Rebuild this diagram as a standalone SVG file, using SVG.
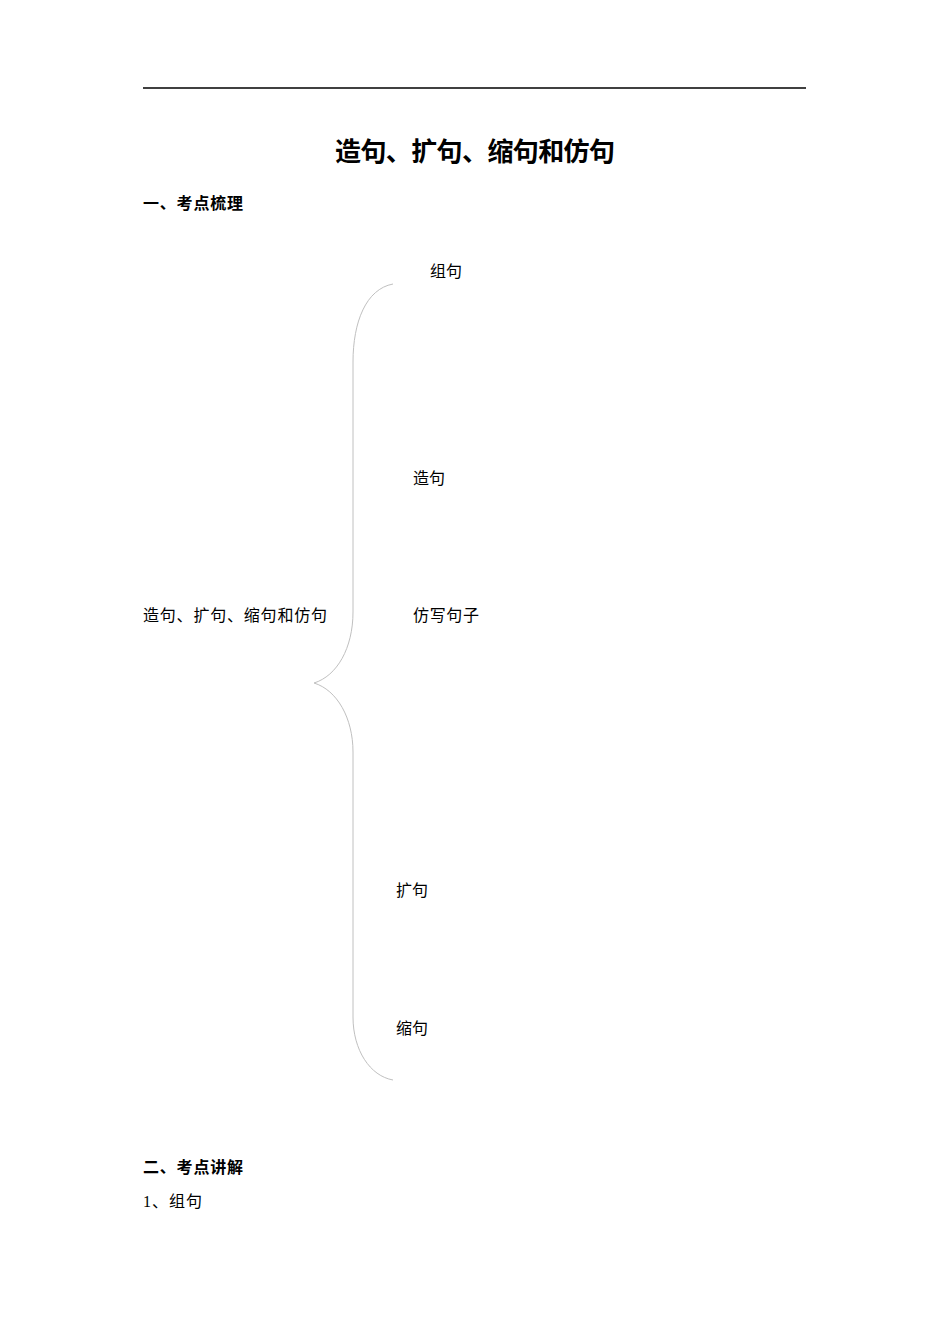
<svg xmlns="http://www.w3.org/2000/svg" width="950" height="1344" viewBox="0 0 950 1344">
<style>
.t{font-family:"Liberation Serif","Noto Sans CJK SC",serif;font-size:16px;fill:#000}
.b{font-family:"Liberation Sans","Noto Sans CJK SC",sans-serif;font-size:16px;font-weight:bold;fill:#000}
.h{font-family:"Liberation Sans","Noto Sans CJK SC",sans-serif;font-size:26px;font-weight:bold;fill:#000}
.brace{fill:none;stroke:#c0c0c0;stroke-width:1}
</style>
<rect width="950" height="1344" fill="#fff"/>
<line x1="143" y1="88" x2="806" y2="88" stroke="#000" stroke-width="1.5"/>
<text class="h" x="475" y="161" text-anchor="middle" textLength="280">造句、扩句、缩句和仿句</text>
<text class="b" x="143" y="209" textLength="100">一、考点梳理</text>
<g id="connectors">
<path class="brace" d="M393,284 C366,289 353,322 353,362 L353,612 C353,648 337,676 314,683 C337,690 353,718 353,752 L353,1017 C353,1050 370,1076 393,1080"/>
</g>
<g id="root"><text class="t" x="143" y="621" textLength="184">造句、扩句、缩句和仿句</text></g>
<g id="n-zuju"><text class="t" x="430" y="277">组句</text></g>
<g id="n-zaoju"><text class="t" x="413" y="484">造句</text></g>
<g id="n-fangxie"><text class="t" x="413" y="621" textLength="66">仿写句子</text></g>
<g id="n-kuoju"><text class="t" x="396" y="896">扩句</text></g>
<g id="n-suoju"><text class="t" x="396" y="1034">缩句</text></g>
<text class="b" x="143" y="1173" textLength="100">二、考点讲解</text>
<text class="t" x="143" y="1207" textLength="59">1、组句</text>
</svg>
